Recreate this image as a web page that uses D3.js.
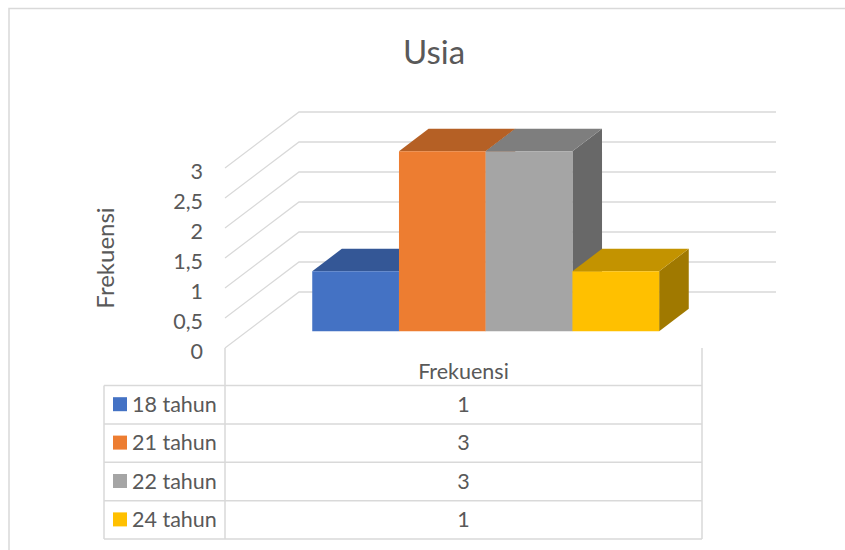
<!DOCTYPE html>
<html>
<head>
<meta charset="utf-8">
<script src="https://cdn.jsdelivr.net/npm/d3@7"></script>
<style>
  body { margin: 0; background: #fff; }
  svg text { font-family: Lato, "Open Sans", sans-serif; fill: #595959; }
</style>
</head>
<body>
<div id="chart"></div>
<script>
// Data
const title = 'Usia';
const category = 'Frekuensi';
const seriesNames = ['18 tahun', '21 tahun', '22 tahun', '24 tahun'];
const seriesValues = [1, 3, 3, 1];
const seriesColors = ['#4472C4', '#ED7D31', '#A5A5A5', '#FFC000'];
const yTicks = [0, 0.5, 1, 1.5, 2, 2.5, 3];
const yTickLabels = ['0', '0,5', '1', '1,5', '2', '2,5', '3'];

const width = 845;
const height = 550;

// Plot box (front plane) and oblique depth
const plot = { left: 225, right: 702, top: 168, bottom: 348 };
const depth = { dx: 74, dy: -56 };
const barDepth = [0.3, 0.7];

const svg = d3.select('#chart').append('svg')
  .attr('width', width)
  .attr('height', height);

svg.append('rect')
  .attr('x', 9).attr('y', 8.5)
  .attr('width', width).attr('height', height)
  .attr('fill', '#fff')
  .attr('stroke', '#d9d9d9')
  .attr('stroke-width', 1.5);

const yScale = d3.scaleLinear()
  .domain([0, 3])
  .range([plot.bottom, plot.top]);

const xCat = d3.scaleBand()
  .domain([category])
  .range([plot.left, plot.right])
  .paddingInner(0)
  .paddingOuter(0.1875);

const xSeries = d3.scaleBand()
  .domain(seriesNames)
  .range([xCat(category), xCat(category) + xCat.bandwidth()]);

// project (x, value, z) -> screen
const proj = (x, v, z) => [x + z * depth.dx, yScale(v) + z * depth.dy];
const poly = pts => 'M' + pts.map(p => p.join(',')).join('L') + 'Z';
const line = pts => 'M' + pts.map(p => p.join(',')).join('L');

// Gridlines: side wall diagonal + back wall horizontal
svg.append('g')
  .selectAll('path')
  .data(yTicks)
  .join('path')
  .attr('fill', 'none')
  .attr('stroke', '#d9d9d9')
  .attr('stroke-width', 1.3)
  .attr('d', t => line([proj(plot.left, t, 0), proj(plot.left, t, 1), proj(plot.right, t, 1)]));

// Tick labels
svg.append('g')
  .selectAll('text')
  .data(yTicks)
  .join('text')
  .attr('x', 203)
  .attr('y', t => yScale(t) + 3)
  .attr('dy', '0.35em')
  .attr('text-anchor', 'end')
  .style('font-size', '21.5px')
  .text((t, i) => yTickLabels[i]);

// Axis title
svg.append('text')
  .attr('transform', 'translate(114,258) rotate(-90)')
  .attr('text-anchor', 'middle')
  .style('font-size', '24px')
  .text(category);

// Chart title
svg.append('text')
  .attr('x', 434)
  .attr('y', 64)
  .attr('text-anchor', 'middle')
  .style('font-size', '33px')
  .text(title);

// 3D bars, left to right so later bars cover earlier side faces
const shade = (c, k) => d3.rgb(c).darker(k).formatHex();
const bars = svg.append('g')
  .selectAll('g')
  .data(seriesNames.map((name, i) => ({ name, value: seriesValues[i], color: seriesColors[i] })))
  .join('g');

bars.each(function (d) {
  const g = d3.select(this);
  const xa = xSeries(d.name);
  const xb = xa + xSeries.bandwidth();
  const [z0, z1] = barDepth;
  g.append('path') // side
    .attr('fill', shade(d.color, 1.3))
    .attr('d', poly([proj(xb, d.value, z0), proj(xb, d.value, z1), proj(xb, 0, z1), proj(xb, 0, z0)]));
  g.append('path') // top
    .attr('fill', shade(d.color, 0.75))
    .attr('d', poly([proj(xa, d.value, z0), proj(xa, d.value, z1), proj(xb, d.value, z1), proj(xb, d.value, z0)]));
  g.append('path') // front
    .attr('fill', d.color)
    .attr('d', poly([proj(xa, 0, z0), proj(xa, d.value, z0), proj(xb, d.value, z0), proj(xb, 0, z0)]));
});

// Data table
const tableLeft = 104;
const rowTop = 385.5;
const rowH = 38.4;
const rows = d3.range(seriesNames.length + 1).map(i => rowTop + i * rowH);
const tableBottom = rows[rows.length - 1];
const table = svg.append('g')
  .attr('stroke', '#d9d9d9')
  .attr('stroke-width', 1.5);

table.selectAll('line.h')
  .data(rows)
  .join('line')
  .attr('class', 'h')
  .attr('x1', tableLeft).attr('x2', plot.right)
  .attr('y1', d => d).attr('y2', d => d);

table.selectAll('line.v')
  .data([[tableLeft, rowTop], [plot.left, plot.bottom], [plot.right, plot.bottom]])
  .join('line')
  .attr('class', 'v')
  .attr('x1', d => d[0]).attr('x2', d => d[0])
  .attr('y1', d => d[1]).attr('y2', tableBottom);

const colMid = (plot.left + plot.right) / 2;

svg.append('text')
  .attr('x', colMid)
  .attr('y', 379)
  .attr('text-anchor', 'middle')
  .style('font-size', '21.5px')
  .text(category);

const rowG = svg.append('g')
  .selectAll('g')
  .data(seriesNames)
  .join('g')
  .attr('transform', (d, i) => `translate(0,${rows[i] + rowH / 2})`);

rowG.append('rect')
  .attr('x', 113).attr('y', -7.5)
  .attr('width', 14).attr('height', 14)
  .attr('fill', (d, i) => seriesColors[i]);

rowG.append('text')
  .attr('x', 132)
  .attr('y', 7)
  .style('font-size', '21.5px')
  .text(d => d);

rowG.append('text')
  .attr('x', colMid)
  .attr('y', 7)
  .attr('text-anchor', 'middle')
  .style('font-size', '21.5px')
  .text((d, i) => seriesValues[i]);
</script>
</body>
</html>
